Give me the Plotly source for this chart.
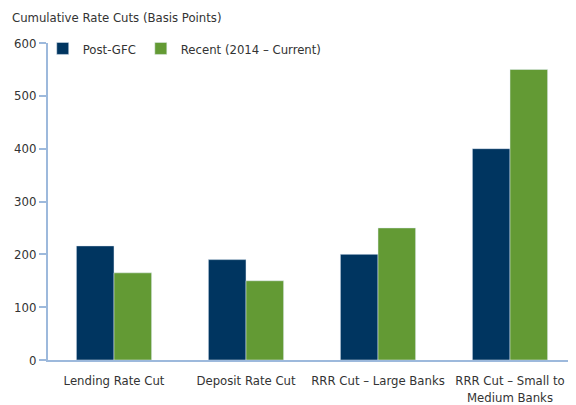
import plotly.graph_objects as go

categories = ["Lending Rate Cut", "Deposit Rate Cut", "RRR Cut – Large Banks", "RRR Cut – Small to<br>Medium Banks"]
post_gfc = [216, 190, 200, 400]
recent = [165, 150, 250, 550]
series_names = ["Post-GFC", "Recent (2014 – Current)"]
tick_vals = [0, 100, 200, 300, 400, 500, 600]

FONT = "DejaVu Sans Condensed, Roboto, sans-serif"
AXIS_COLOR = "#9DB9DC"

fig = go.Figure()
fig.add_trace(go.Bar(x=categories, y=post_gfc, name=series_names[0], marker_color="#003560"))
fig.add_trace(go.Bar(x=categories, y=recent, name=series_names[1], marker_color="#639A34"))

# page body has an 8px margin, so the figure is sized to fit the 576x405 window
fig.update_layout(
    width=568, height=397,
    margin=dict(l=40, r=0, t=35, b=45, autoexpand=False),
    paper_bgcolor="white", plot_bgcolor="white",
    barmode="group", bargap=0.43, bargroupgap=0,
    font=dict(family=FONT, size=13, color="#333333"),
    title=dict(text="Cumulative Rate Cuts (Basis Points)", x=0.007, xanchor="left", y=0.977, yanchor="middle",
               font=dict(family=FONT, size=13, color="#333333")),
    legend=dict(orientation="h", x=-0.01, y=1.03, xanchor="left", yanchor="top",
                font=dict(family=FONT, size=13, color="#333333"), itemwidth=30, traceorder="normal",
                tracegroupgap=0, bgcolor="rgba(0,0,0,0)"),
    xaxis=dict(showline=True, linecolor=AXIS_COLOR, linewidth=2, ticks="", showgrid=False,
               automargin=False, ticklabelstandoff=7, tickfont=dict(family=FONT, size=13)),
    yaxis=dict(range=[0, 600], tickvals=tick_vals, showline=True, linecolor=AXIS_COLOR, linewidth=2,
               ticks="outside", ticklen=7, tickcolor=AXIS_COLOR, tickwidth=2, showgrid=False,
               automargin=False, zeroline=False, tickfont=dict(family=FONT, size=13)),
)
fig.write_html("out.html")
